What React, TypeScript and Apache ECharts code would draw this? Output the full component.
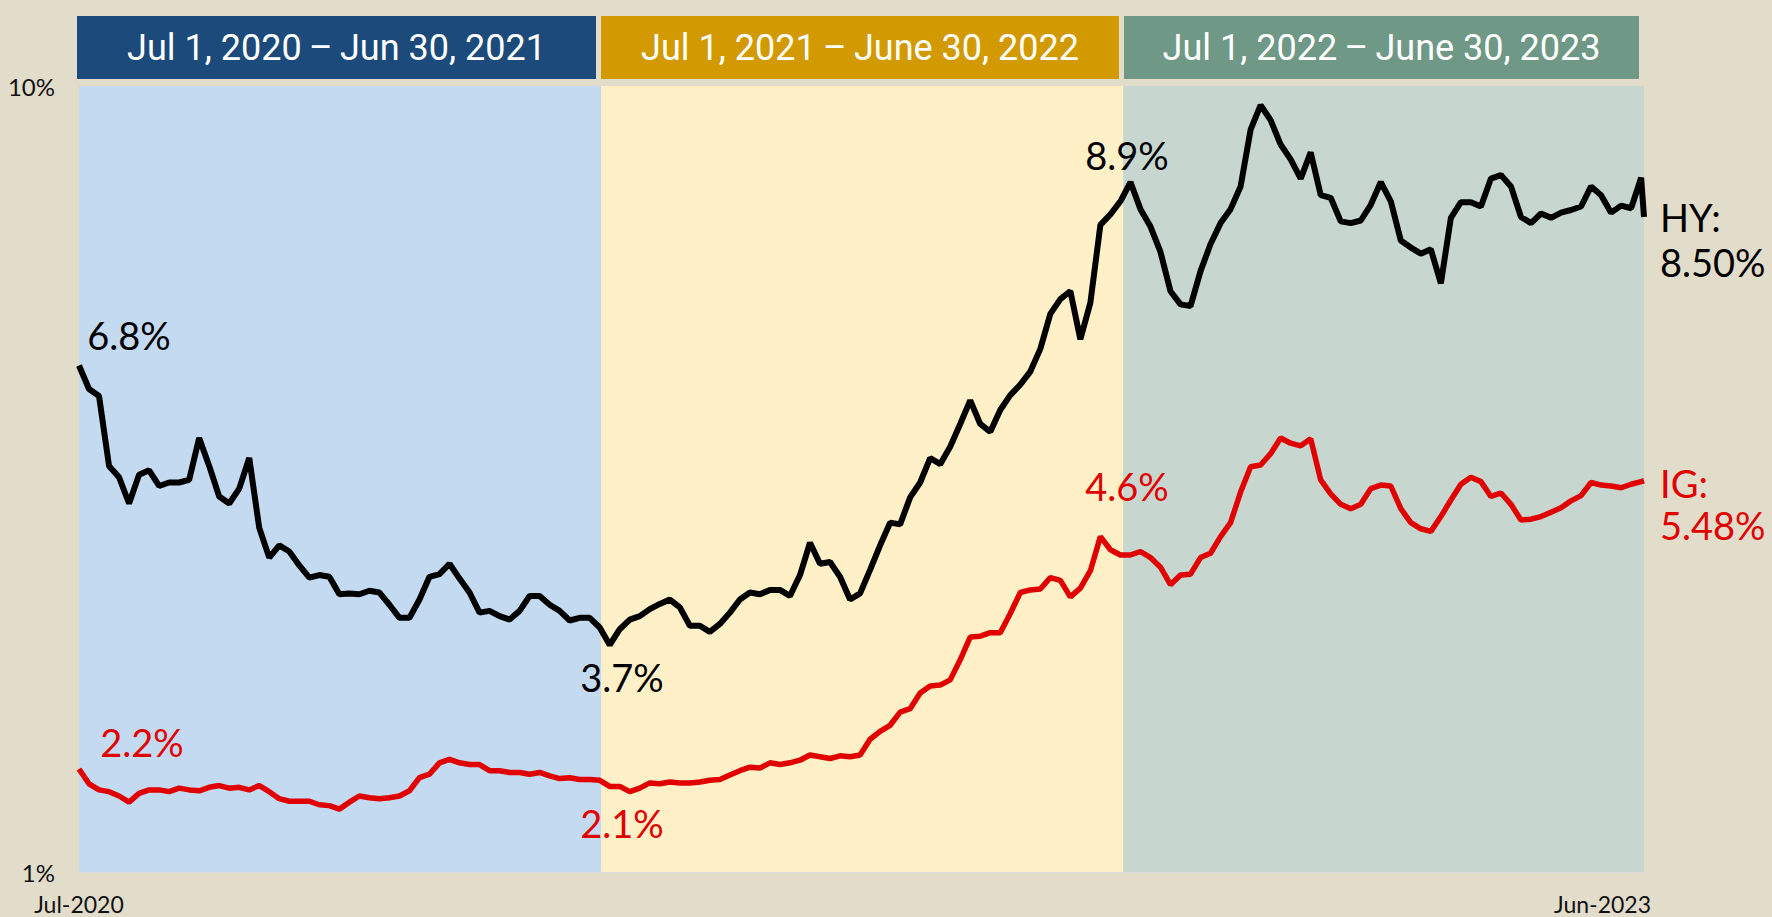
import React, { useEffect, useRef } from "react";
import * as echarts from "echarts";

// Weekly observations from Jul 1, 2020; the last value is Jun 30, 2023
const hyYield = [
  6.8, 6.53, 6.45, 5.65, 5.52, 5.22, 5.55, 5.6, 5.42, 5.46, 5.46, 5.49, 5.97, 5.65, 5.3, 5.22, 5.39, 5.74, 4.94, 4.6,
  4.74, 4.67, 4.51, 4.37, 4.4, 4.38, 4.18, 4.19, 4.18, 4.22, 4.2, 4.06, 3.91, 3.91, 4.12, 4.38, 4.41, 4.53, 4.36, 4.2,
  3.97, 3.99, 3.93, 3.89, 3.99, 4.16, 4.16, 4.06, 3.99, 3.88, 3.91, 3.91, 3.8, 3.6, 3.78, 3.89, 3.93, 4.01, 4.07, 4.12,
  4.03, 3.82, 3.82, 3.75, 3.84, 3.97, 4.12, 4.2, 4.18, 4.23, 4.23, 4.16, 4.4, 4.77, 4.53, 4.55, 4.38, 4.12, 4.19, 4.46,
  4.74, 5.0, 4.98, 5.29, 5.46, 5.74, 5.67, 5.87, 6.13, 6.4, 6.13, 6.04, 6.29, 6.46, 6.58, 6.73, 6.99, 7.39, 7.56, 7.65,
  7.1, 7.52, 8.41, 8.53, 8.68, 8.9, 8.59, 8.39, 8.1, 7.65, 7.5, 7.48, 7.88, 8.19, 8.43, 8.59, 8.85, 9.5, 9.78, 9.61,
  9.33, 9.16, 8.94, 9.24, 8.75, 8.72, 8.45, 8.43, 8.46, 8.64, 8.9, 8.68, 8.23, 8.15, 8.08, 8.13, 7.74, 8.49, 8.67, 8.67,
  8.62, 8.94, 8.98, 8.85, 8.5, 8.43, 8.54, 8.49, 8.55, 8.58, 8.62, 8.85, 8.75, 8.55, 8.63, 8.6, 8.95, 8.5,
];

const igYield = [
  2.18, 2.01, 1.94, 1.92, 1.87, 1.8, 1.9, 1.94, 1.94, 1.92, 1.96, 1.94, 1.93, 1.97, 1.99, 1.96, 1.97, 1.94, 1.99, 1.92,
  1.84, 1.81, 1.81, 1.81, 1.77, 1.76, 1.72, 1.8, 1.87, 1.85, 1.84, 1.85, 1.87, 1.93, 2.08, 2.12, 2.25, 2.29, 2.25, 2.23,
  2.23, 2.16, 2.16, 2.14, 2.14, 2.12, 2.14, 2.1, 2.07, 2.08, 2.06, 2.06, 2.05, 1.98, 1.98, 1.92, 1.96, 2.02, 2.01, 2.03,
  2.02, 2.02, 2.03, 2.05, 2.06, 2.11, 2.16, 2.2, 2.19, 2.25, 2.23, 2.25, 2.28, 2.34, 2.32, 2.3, 2.33, 2.32, 2.34, 2.52,
  2.61, 2.68, 2.83, 2.87, 3.05, 3.13, 3.14, 3.2, 3.43, 3.69, 3.7, 3.74, 3.74, 3.96, 4.2, 4.23, 4.24, 4.37, 4.34, 4.15,
  4.25, 4.45, 4.84, 4.69, 4.63, 4.63, 4.67, 4.6, 4.49, 4.29, 4.4, 4.41, 4.6, 4.65, 4.84, 5.0, 5.35, 5.64, 5.66, 5.79,
  5.97, 5.91, 5.88, 5.96, 5.49, 5.33, 5.21, 5.16, 5.21, 5.39, 5.43, 5.42, 5.16, 5.0, 4.93, 4.9, 5.07, 5.26, 5.44, 5.52,
  5.47, 5.3, 5.34, 5.21, 5.03, 5.04, 5.07, 5.12, 5.17, 5.25, 5.31, 5.46, 5.43, 5.42, 5.4, 5.44, 5.47, 5.48,
];

const periodLabels = [
  "Jul 1, 2020\u2009\u2013\u2009Jun 30, 2021",
  "Jul 1, 2021\u2009\u2013\u2009June 30, 2022",
  "Jul 1, 2022\u2009\u2013\u2009June 30, 2023",
];
const periodStarts = ["2020-07-01", "2021-07-01", "2022-07-01"];
const periodEnds = ["2021-07-01", "2022-07-01", "2023-06-30"];
const xTickDates = ["2020-07-01", "2023-06-01"];
const yTicks = [1, 10];

const START = Date.UTC(2020, 6, 1);
const END = Date.UTC(2023, 5, 30);
const WEEK = 7 * 86400000;
const MONTHS = ["Jan", "Feb", "Mar", "Apr", "May", "Jun", "Jul", "Aug", "Sep", "Oct", "Nov", "Dec"];

const toSeries = (vals: number[]) =>
  vals.map((v, i) => [i === vals.length - 1 ? END : START + i * WEEK, v]);

const ts = (s: string) => {
  const [y, m, d] = s.split("-").map(Number);
  return Date.UTC(y, m - 1, d);
};

export default function App() {
  const ref = useRef<HTMLDivElement>(null);
  useEffect(() => {
    if (!ref.current) return;
    const chart = echarts.init(ref.current, undefined, { renderer: "svg" });
    const FONT = "Lato";
    const bandColors = ["#c4daf1", "#fff0c7", "#c7d7d0"];
    const boxColors = ["#1c4a7a", "#d29a00", "#6f9886"];
    const boxes = [
      [77, 596],
      [601, 1119],
      [1124, 1639],
    ];
    const graphic: any[] = [];
    boxes.forEach((b, i) => {
      graphic.push({
        type: "rect",
        z: 100,
        shape: { x: b[0], y: 16, width: b[1] - b[0], height: 63 },
        style: { fill: boxColors[i] },
      });
      graphic.push({
        type: "text",
        z: 101,
        x: (b[0] + b[1]) / 2,
        y: 48,
        style: {
          text: periodLabels[i],
          fill: "#ffffff",
          font: `36px Roboto`,
          textAlign: "center",
          textVerticalAlign: "middle",
        },
      });
    });
    const note = (text: string, x: number, y: number, color: string, align = "center") => ({
      type: "text",
      z: 100,
      x,
      y,
      style: {
        text,
        fill: color,
        font: `38px ${FONT}`,
        textAlign: align,
        textVerticalAlign: "middle",
      },
    });
    const RED = "#e00000";
    graphic.push(note("6.8%", 129, 335, "#000"));
    graphic.push(note("2.2%", 142, 742, RED));
    graphic.push(note("3.7%", 622, 677, "#000"));
    graphic.push(note("2.1%", 622, 823, RED));
    graphic.push(note("8.9%", 1127, 155, "#000"));
    graphic.push(note("4.6%", 1127, 486, RED));
    graphic.push(note("HY:", 1660, 217, "#000", "left"));
    graphic.push(note("8.50%", 1660, 262, "#000", "left"));
    graphic.push(note("IG:", 1660, 483, RED, "left"));
    graphic.push(note("5.48%", 1660, 525, RED, "left"));

    chart.setOption({
      animation: false,
      backgroundColor: "#e2dccb",
      grid: { left: 79, right: 128, top: 86, bottom: 45, containLabel: false },
      xAxis: {
        type: "value",
        min: START,
        max: END,
        axisLine: { show: true, lineStyle: { color: "#dcdcdc", width: 2 } },
        axisTick: { show: false },
        splitLine: { show: false },
        axisLabel: {
          customValues: xTickDates.map(ts),
          formatter: (v: number) => {
            const d = new Date(v);
            return MONTHS[d.getUTCMonth()] + "-" + d.getUTCFullYear();
          },
          color: "#111",
          fontFamily: FONT,
          fontSize: 23,
          margin: 20,
          hideOverlap: false,
        },
      },
      yAxis: {
        type: "value",
        min: yTicks[0],
        max: yTicks[1],
        interval: yTicks[1] - yTicks[0],
        axisLine: { show: false },
        axisTick: { show: false },
        splitLine: { show: false },
        axisLabel: {
          formatter: "{value}%",
          color: "#111",
          fontFamily: FONT,
          fontSize: 24,
          margin: 24,
        },
      },
      graphic,
      series: [
        {
          name: "HY",
          type: "line",
          data: toSeries(hyYield),
          showSymbol: false,
          symbol: "none",
          lineStyle: { color: "#000", width: 6 },
          z: 3,
          markArea: {
            silent: true,
            data: periodStarts.map((s, i) => [
              { xAxis: ts(s), itemStyle: { color: bandColors[i] } },
              { xAxis: ts(periodEnds[i]) },
            ]),
          },
        },
        {
          name: "IG",
          type: "line",
          data: toSeries(igYield),
          showSymbol: false,
          symbol: "none",
          lineStyle: { color: RED, width: 5.5 },
          z: 3,
        },
      ],
    });
    return () => chart.dispose();
  }, []);
  return (
    <div
      ref={ref}
      style={{ position: "absolute", left: 0, top: 0, width: 1772, height: 917 }}
    />
  );
}
